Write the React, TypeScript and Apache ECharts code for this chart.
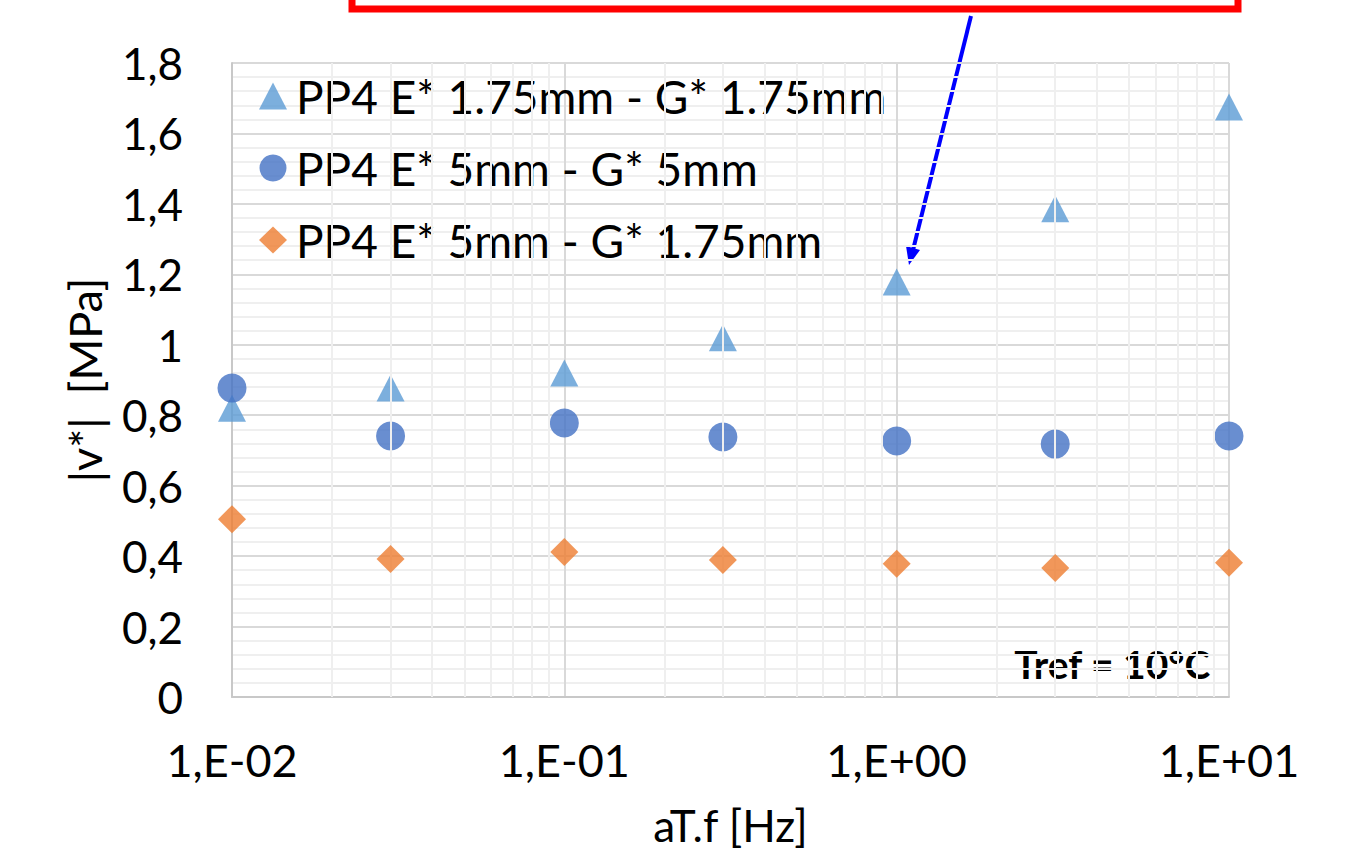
import React, { useEffect, useRef } from "react";
import * as echarts from "echarts";

const freqs = [0.01, 0.03, 0.1, 0.3, 1, 3, 10];
const triangleVals = [0.82, 0.877, 0.92, 1.02, 1.178, 1.386, 1.675];
const circleVals = [0.877, 0.741, 0.778, 0.738, 0.727, 0.718, 0.741];
const diamondVals = [0.505, 0.392, 0.412, 0.389, 0.378, 0.366, 0.381];
const seriesNames = [
  "PP4 E* 1.75mm - G* 1.75mm",
  "PP4 E* 5mm - G* 5mm",
  "PP4 E* 5mm - G* 1.75mm",
];
const minorXLines = [
  0.02, 0.03, 0.04, 0.05, 0.06, 0.07, 0.08, 0.09,
  0.2, 0.3, 0.4, 0.5, 0.6, 0.7, 0.8, 0.9,
  2, 3, 4, 5, 6, 7, 8, 9,
];
const xTickLabels: Record<string, string> = {
  "0.01": "1,E-02",
  "0.1": "1,E-01",
  "1": "1,E+00",
  "10": "1,E+01",
};

const FONT = "Lato";

export default function App() {
  const ref = useRef<HTMLDivElement>(null);
  useEffect(() => {
    if (!ref.current) return;
    const chart = echarts.init(ref.current, undefined, { renderer: "svg" });
    const pts = (vals: number[]) => freqs.map((f, i) => [f, vals[i]]);
    chart.setOption({
      animation: false,
      backgroundColor: "#fff",
      grid: {
        left: 232,
        right: 118,
        top: 63,
        bottom: 157,
        containLabel: false,
        outerBoundsMode: "none",
      },
      legend: {
        orient: "vertical",
        left: 254,
        top: 66,
        itemWidth: 28,
        itemHeight: 27,
        itemGap: 22,
        textStyle: {
          fontFamily: FONT,
          fontSize: 46,
          color: "#000",
          lineHeight: 50,
          padding: [0, 0, 0, 4],
        },
        data: [
          { name: seriesNames[0], icon: "triangle" },
          { name: seriesNames[1], icon: "circle" },
          { name: seriesNames[2], icon: "diamond" },
        ],
      },
      xAxis: {
        type: "log",
        min: 0.01,
        max: 10,
        logBase: 10,
        name: "aT.f [Hz]",
        nameLocation: "middle",
        nameGap: 106,
        nameTextStyle: { fontFamily: FONT, fontSize: 44, color: "#000" },
        axisLine: { show: true, lineStyle: { color: "#c8c8c8", width: 2 } },
        axisTick: { show: false },
        splitLine: { show: true, lineStyle: { color: "#d9d9d9", width: 2 } },
        axisLabel: {
          fontFamily: FONT,
          fontSize: 45,
          color: "#000",
          margin: 40,
          formatter: (v: number) => xTickLabels[String(+v.toPrecision(3))] ?? "",
        },
      },
      yAxis: {
        type: "value",
        min: 0,
        max: 1.8,
        interval: 0.2,
        name: "|v*|  [MPa]",
        nameLocation: "middle",
        nameGap: 125,
        nameTextStyle: { fontFamily: FONT, fontSize: 45, color: "#000" },
        axisLine: { show: true, lineStyle: { color: "#c8c8c8", width: 2 } },
        axisTick: { show: false },
        splitLine: { show: true, lineStyle: { color: "#d9d9d9", width: 2 } },
        minorTick: { show: false, splitNumber: 5 },
        minorSplitLine: { show: true, lineStyle: { color: "#efefef", width: 2 } },
        axisLabel: {
          fontFamily: FONT,
          fontSize: 44,
          color: "#000",
          margin: 49,
          formatter: (v: number) => String(+v.toFixed(1)).replace(".", ","),
        },
      },
      series: [
        {
          name: "minor-x",
          type: "scatter",
          data: [],
          silent: true,
          markLine: {
            silent: true,
            symbol: "none",
            label: { show: false },
            lineStyle: { color: "#efefef", width: 2, type: "solid" },
            data: minorXLines.map((v) => ({ xAxis: v })),
          },
          z: 0,
        },
        {
          name: seriesNames[0],
          type: "scatter",
          symbol: "triangle",
          symbolSize: [28, 27],
          itemStyle: { color: "#5B9BD5" },
          data: pts(triangleVals),
          z: 3,
        },
        {
          name: seriesNames[1],
          type: "scatter",
          symbol: "circle",
          symbolSize: 29,
          itemStyle: { color: "#4472C4" },
          data: pts(circleVals),
          z: 4,
        },
        {
          name: seriesNames[2],
          type: "scatter",
          symbol: "diamond",
          symbolSize: [28, 28],
          itemStyle: { color: "#ED7D31" },
          data: pts(diamondVals),
          z: 5,
        },
      ],
      graphic: [
        {
          type: "text",
          right: 136,
          top: 644,
          style: {
            text: "Tref = 10°C",
            fontFamily: FONT,
            fontWeight: "bold",
            fontSize: 39,
            fill: "#000",
          },
        },
        {
          type: "rect",
          shape: { x: 352, y: -30, width: 886, height: 39 },
          style: { fill: "none", stroke: "#ff0000", lineWidth: 7 },
        },
        {
          type: "line",
          shape: { x1: 971, y1: 16, x2: 913, y2: 250 },
          style: { stroke: "#0000ff", lineWidth: 4 },
        },
        {
          type: "polygon",
          shape: { points: [[909, 265], [906, 246], [920, 250]] },
          style: { fill: "#0000ff" },
        },
      ],
    });
    return () => chart.dispose();
  }, []);
  return (
    <div
      ref={ref}
      style={{ position: "fixed", left: 0, top: 0, width: 1347, height: 854 }}
    />
  );
}
